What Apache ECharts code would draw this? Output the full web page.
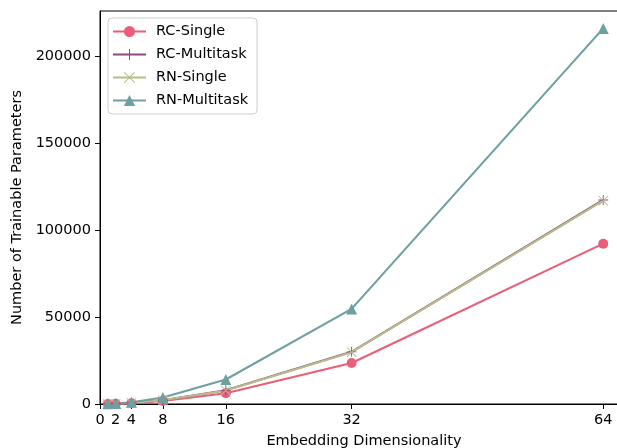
<!DOCTYPE html>
<html>
<head>
<meta charset="utf-8">
<script src="https://cdn.jsdelivr.net/npm/echarts@6/dist/echarts.min.js"></script>
<style>
  html, body { margin: 0; padding: 0; background: #fff; }
  #chart { width: 617px; height: 448px; }
</style>
</head>
<body>
<div id="chart"></div>
<script>
// Embedding sizes evaluated
const dims = [1, 2, 4, 8, 16, 32, 64];

// Trainable parameter counts per model variant
const rcSingle    = [58, 160, 495, 1690, 6190, 23600, 92200];
const rcMultitask = [72, 200, 622, 2140, 7860, 30000, 117300];
const rnSingle    = [70, 195, 615, 2120, 7800, 29800, 116900];
const rnMultitask = [97, 298, 1010, 3690, 14100, 54700, 216000];

// Axis tick labels
const xTicks = [0, 2, 4, 8, 16, 32, 64];
const yTicks = [0, 50000, 100000, 150000, 200000];

const seriesNames = ['RC-Single', 'RC-Multitask', 'RN-Single', 'RN-Multitask'];
const seriesValues = [rcSingle, rcMultitask, rnSingle, rnMultitask];
const seriesColors = ['#ea5f77', '#8c4a82', '#b7bd88', '#6e9fa1'];

const plusPath = 'path://M-0.09,-1H0.09V1H-0.09Z M-1,-0.09H1V0.09H-1Z';
const crossPath = 'path://M-1,-0.87L-0.87,-1L1,0.87L0.87,1Z M-1,0.87L0.87,-1L1,-0.87L-0.87,1Z';
const symbols = ['circle', plusPath, crossPath, 'triangle'];
const symbolSizes = [10, 10, 10, 11];

const font = 'DejaVu Sans';
const fs = 14.5;

const chart = echarts.init(document.getElementById('chart'), null, { renderer: 'canvas' });

chart.setOption({
  animation: false,
  backgroundColor: '#fff',
  textStyle: { fontFamily: font },
  grid: {
    left: 100,
    top: 11,
    width: 528,
    height: 393,
    outerBoundsMode: 'none',
    containLabel: false,
    show: true,
    borderColor: '#000',
    borderWidth: 1,
    backgroundColor: 'transparent'
  },
  legend: {
    orient: 'vertical',
    left: 108,
    top: 18,
    padding: [6, 9, 6, 4],
    itemWidth: 33,
    itemHeight: 14,
    itemGap: 8,
    backgroundColor: 'rgba(255,255,255,0.8)',
    borderColor: '#cccccc',
    borderWidth: 1,
    borderRadius: 4,
    textStyle: { fontFamily: font, fontSize: fs, color: '#000', padding: [0, 0, 0, 5] },
    data: seriesNames
  },
  xAxis: {
    type: 'value',
    min: 0,
    max: 67.15,
    name: 'Embedding Dimensionality',
    nameLocation: 'middle',
    nameGap: 30,
    nameTextStyle: { fontFamily: font, fontSize: fs, color: '#000' },
    axisLine: { onZero: false, lineStyle: { color: '#000', width: 1 } },
    axisTick: { show: true, length: 5, lineStyle: { color: '#000' }, customValues: xTicks },
    axisLabel: { fontFamily: font, fontSize: fs, color: '#000', margin: 9, customValues: xTicks },
    splitLine: { show: false }
  },
  yAxis: {
    type: 'value',
    min: 0,
    max: 226000,
    name: 'Number of Trainable Parameters',
    nameLocation: 'middle',
    nameGap: 72,
    nameTextStyle: { fontFamily: font, fontSize: fs, color: '#000' },
    axisLine: { show: true, lineStyle: { color: '#000', width: 1 } },
    axisTick: { show: true, length: 5, lineStyle: { color: '#000' }, customValues: yTicks },
    axisLabel: { fontFamily: font, fontSize: fs, color: '#000', margin: 9, customValues: yTicks,
                 formatter: v => String(v) },
    splitLine: { show: false }
  },
  series: seriesNames.map((name, i) => ({
    name: name,
    type: 'line',
    data: dims.map((d, j) => [d, seriesValues[i][j]]),
    symbol: symbols[i],
    symbolSize: symbolSizes[i],
    showAllSymbol: true,
    color: seriesColors[i],
    lineStyle: { width: 2.1, color: seriesColors[i] },
    itemStyle: { color: seriesColors[i], borderWidth: 0 },
    emphasis: { disabled: true },
    clip: true
  }))
});
</script>
</body>
</html>
